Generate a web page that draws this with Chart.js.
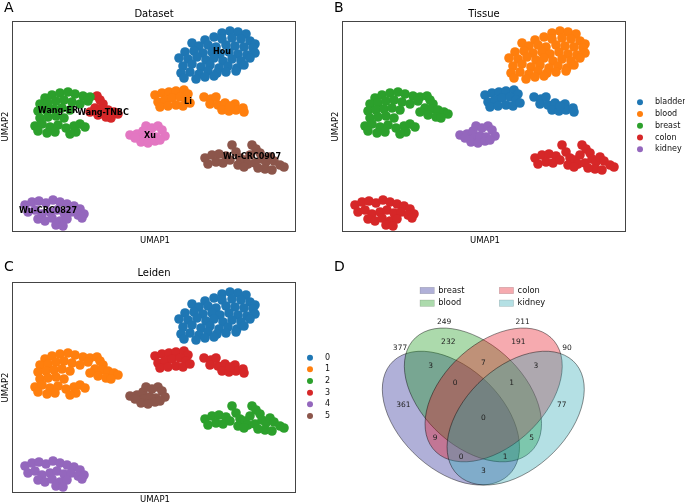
<!DOCTYPE html>
<html>
<head>
<meta charset="utf-8">
<script src="https://cdn.jsdelivr.net/npm/chart.js@4.4.1/dist/chart.umd.min.js"></script>
<style>
  body { margin: 0; background: #fff; width: 685px; height: 503px; position: relative; overflow: hidden; }
  canvas { position: absolute; }
</style>
</head>
<body>
<canvas id="cA" width="340" height="250" style="left:0;top:0;width:340px;height:250px"></canvas>
<canvas id="cB" width="355" height="250" style="left:330px;top:0;width:355px;height:250px"></canvas>
<canvas id="cC" width="340" height="253" style="left:0;top:250px;width:340px;height:253px"></canvas>
<canvas id="cD" width="355" height="253" style="left:330px;top:250px;width:355px;height:253px"></canvas>
<script>
// ===== UMAP coordinates per sample (UMAP1, UMAP2) =====
const houPts = [[21.0,19.9],[21.8,20.1],[22.6,20.0],[23.4,19.8],[19.3,19.2],[20.2,19.5],[21.0,19.3],[22.0,19.4],[22.9,19.3],[23.8,19.1],[24.3,18.8],
  [18.0,18.9],[18.7,18.6],[19.6,18.7],[20.4,18.5],[21.4,18.7],[22.3,18.6],[23.2,18.5],[24.1,18.4],[17.3,18.0],[18.2,18.1],[19.1,17.9],[20.0,18.0],
  [20.8,17.8],[21.7,18.0],[22.6,17.8],[23.5,17.7],[24.3,17.9],[16.7,17.4],[17.6,17.3],[18.5,17.5],[19.4,17.2],[20.2,17.4],[21.1,17.1],[22.0,17.3],
  [22.9,17.1],[23.8,17.4],[17.1,16.6],[18.0,16.8],[18.9,16.5],[19.8,16.7],[20.7,16.4],[21.6,16.6],[22.5,16.4],[23.2,16.7],[16.9,15.9],[17.8,16.0],
  [18.7,15.8],[19.6,16.1],[20.5,15.9],[21.4,16.0],[22.4,16.1],[17.2,15.4],[18.4,15.3],[19.3,15.5],[20.2,15.6]];
const liPts = [[14.3,13.7],[15.0,13.9],[15.7,14.0],[16.4,14.1],[17.2,14.2],[17.6,13.8],[14.6,13.0],[15.3,13.2],[16.0,13.4],[16.8,13.5],[17.4,13.2],
  [14.8,12.5],[15.6,12.6],[16.4,12.7],[17.1,12.6],[17.8,12.9],[19.2,13.5],[19.9,13.3],[20.4,13.5],[19.8,12.8],[20.6,12.7],[21.3,12.9],[21.0,12.2],
  [21.7,12.1],[22.3,12.8],[22.4,12.2],[23.1,12.4],[23.2,12.0],[21.8,12.6]];
const wangErPts = [[3.3,13.4],[4.0,13.7],[4.8,13.9],[5.6,14.0],[6.3,13.8],[7.1,13.6],[7.8,13.5],[2.8,12.8],[3.6,12.9],[4.4,13.1],[5.2,13.2],
  [6.0,13.0],[6.8,12.8],[7.6,13.1],[2.6,12.1],[3.4,12.2],[4.2,12.3],[5.0,12.4],[5.8,12.2],[2.8,11.4],[3.6,11.5],[4.4,11.6],[5.2,11.4],[2.3,10.6],
  [3.0,10.8],[3.8,10.5],[4.6,10.7],[5.4,10.4],[4.3,10.0],[2.6,10.1],[3.5,9.9],[6.2,10.6],[6.8,10.8],[7.3,10.5],[6.4,10.0],[5.8,9.8]];
const wangTnbcPts = [[8.5,13.6],[8.8,13.2],[9.1,12.8],[8.3,12.4],[9.0,12.3],[9.6,12.2],[10.2,12.0],[10.6,11.8],[7.8,12.0],[8.6,11.7],[9.4,11.5],[9.9,11.4]];
const crc0827Pts = [[1.3,2.7],[2.0,3.0],[2.7,3.1],[3.4,2.9],[4.1,3.2],[4.8,3.0],[5.5,2.8],[6.2,2.6],[6.8,2.3],[7.2,1.8],[1.6,2.0],[2.3,2.2],
  [3.0,1.8],[3.8,2.0],[4.5,2.2],[5.2,1.9],[5.9,2.0],[6.6,1.7],[2.6,1.3],[3.3,1.1],[4.0,1.4],[4.8,1.1],[5.5,1.3],[4.4,0.7],[5.1,0.6],[7.0,1.4]];
const crc0907Pts = [[19.3,7.4],[20.0,7.7],[20.7,7.8],[21.4,7.6],[19.6,6.8],[20.4,7.0],[21.1,6.9],[21.8,7.2],[22.0,8.7],[22.4,8.0],[22.8,7.4],
  [22.6,6.7],[23.3,7.2],[24.0,8.7],[24.4,8.3],[24.8,7.9],[23.8,7.7],[23.6,6.8],[24.3,6.9],[25.0,7.3],[25.4,7.0],[25.8,7.5],[26.2,7.1],[26.8,6.7],
  [27.2,6.5],[25.3,6.3],[26.0,6.2],[24.6,6.4],[23.2,6.5]];
const xuPts = [[11.8,9.7],[12.5,9.8],[13.1,10.1],[13.4,10.6],[14.0,10.4],[14.6,10.6],[15.0,10.2],[15.3,9.6],[13.2,9.4],[13.8,9.6],[14.4,9.5],
  [12.9,9.0],[13.6,8.9],[14.3,9.1],[14.8,9.2],[12.3,9.4]];

// ===== annotations =====
const datasetNames = ["Hou", "Li", "Wang-ER", "Wang-TNBC", "Wu-CRC0827", "Wu-CRC0907", "Xu"];
const datasetPts = [houPts, liPts, wangErPts, wangTnbcPts, crc0827Pts, crc0907Pts, xuPts];
const tissueNames = ["bladder", "blood", "breast", "colon", "kidney"];
const tissueOf = ["blood", "bladder", "breast", "breast", "colon", "colon", "kidney"];
const leidenNames = ["0", "1", "2", "3", "4", "5"];
const leidenOf = ["0", "3", "1", "1", "4", "2", "5"];
// where the dataset names sit on panel A (UMAP units)
const datasetLabelPos = [[21.0,18.0],[17.6,13.0],[4.6,12.1],[9.1,11.9],[3.6,2.1],[24.0,7.5],[13.8,9.6]];

// ===== Venn (marker genes per tissue) =====
const vennSets = ["breast", "blood", "colon", "kidney"];
const vennTotals = [377, 249, 211, 90];
const vennRegions = ["1000","0100","0010","0001","1100","0110","0011","1110","0111","1111","1010","0101","1011","1101","1001"];
const vennCounts = [361, 232, 191, 77, 3, 7, 3, 0, 1, 0, 9, 5, 0, 1, 3];

const tab10 = ["#1f77b4", "#ff7f0e", "#2ca02c", "#d62728", "#9467bd", "#8c564b", "#e377c2"];
const FONT = "DejaVu Sans";

function groupsBy(names, of) {
  return names.map((n, k) => {
    const pts = [];
    of.forEach((c, i) => { if (c === n) datasetPts[i].forEach(p => pts.push({ x: p[0], y: p[1] })); });
    return { label: n, data: pts, backgroundColor: tab10[k], pointRadius: 4.8, pointHoverRadius: 4.8, borderWidth: 0, clip: false };
  });
}

const decor = {
  id: "decor",
  afterDatasetsDraw(chart, args, o) {
    const { ctx, chartArea: a, scales: { x, y } } = chart;
    ctx.save();
    ctx.fillStyle = "#000";
    if (o.frame) {
      ctx.strokeStyle = "#444";
      ctx.lineWidth = 1;
      ctx.strokeRect(a.left + 0.5, a.top + 0.5, a.width - 1, a.height - 1);
      const cx = (a.left + a.right) / 2;
      ctx.font = "10px " + FONT;
      ctx.textAlign = "center";
      ctx.textBaseline = "alphabetic";
      ctx.fillText(o.title, cx, o.titleY);
      ctx.font = "8.5px " + FONT;
      ctx.fillText("UMAP1", cx + 1, o.xlabY);
      ctx.save();
      ctx.translate(o.ylabX, (a.top + a.bottom) / 2);
      ctx.rotate(-Math.PI / 2);
      ctx.fillText("UMAP2", 0, 0);
      ctx.restore();
    }
    ctx.font = "14px " + FONT;
    ctx.textAlign = "left";
    ctx.textBaseline = "alphabetic";
    ctx.fillText(o.letter, 4, o.letterY);
    if (o.onData) {
      ctx.font = "bold 8px " + FONT;
      ctx.textAlign = "center";
      ctx.textBaseline = "middle";
      datasetNames.forEach((n, i) => {
        ctx.fillText(n, x.getPixelForValue(datasetLabelPos[i][0]), y.getPixelForValue(datasetLabelPos[i][1]));
      });
    }
    if (o.legendY) {
      ctx.font = "8px " + FONT;
      ctx.textAlign = "left";
      ctx.textBaseline = "middle";
      chart.data.datasets.forEach((ds, i) => {
        const yy = o.legendY + i * o.legendStep;
        ctx.fillStyle = ds.backgroundColor;
        ctx.beginPath();
        ctx.arc(o.legendX, yy, 3, 0, 2 * Math.PI);
        ctx.fill();
        ctx.fillStyle = "#111";
        ctx.fillText(ds.label, o.legendX + 15, yy);
      });
    }
    ctx.restore();
  }
};

function umapChart(id, datasets, pad, deco) {
  return new Chart(document.getElementById(id), {
    type: "scatter",
    data: { datasets },
    options: {
      responsive: false,
      animation: false,
      layout: { padding: pad },
      scales: {
        x: { type: "linear", min: 0, max: 28.4, display: false },
        y: { type: "linear", min: 0, max: 21.1, display: false }
      },
      plugins: { legend: { display: false }, tooltip: { enabled: false }, decor: deco }
    },
    plugins: [decor]
  });
}

umapChart("cA", groupsBy(datasetNames, datasetNames), { left: 12, top: 21, right: 44, bottom: 18 },
  { frame: true, title: "Dataset", titleY: 16.7, xlabY: 242.5, ylabX: 7.5, letter: "A", letterY: 12, onData: true });
umapChart("cB", groupsBy(tissueNames, tissueOf), { left: 12, top: 21, right: 59, bottom: 18 },
  { frame: true, title: "Tissue", titleY: 16.7, xlabY: 242.5, ylabX: 7.5, letter: "B", letterY: 12,
    legendX: 310, legendY: 102.3, legendStep: 11.75 });
umapChart("cC", groupsBy(leidenNames, leidenOf), { left: 12, top: 32, right: 44, bottom: 10 },
  { frame: true, title: "Leiden", titleY: 26, xlabY: 251.5, ylabX: 7.5, letter: "C", letterY: 20.5,
    legendX: 310, legendY: 107.7, legendStep: 11.65 });

// ===== panel D =====
const vennFill = ["rgba(29,29,144,0.35)", "rgba(18,149,18,0.35)", "rgba(229,12,26,0.35)", "rgba(41,166,178,0.35)"];
// ellipse geometry: centre x, centre y, width, height, angle (deg)
const vennShapes = [[0.350,0.400,0.72,0.45,140], [0.450,0.500,0.72,0.45,140], [0.544,0.500,0.72,0.45,40], [0.644,0.400,0.72,0.45,40]];
const regionPos = [[0.134,0.457],[0.338,0.730],[0.656,0.730],[0.853,0.457],[0.258,0.626],[0.497,0.636],[0.736,0.626],[0.369,0.550],
  [0.626,0.550],[0.497,0.399],[0.278,0.316],[0.717,0.316],[0.396,0.231],[0.596,0.231],[0.497,0.173]];
const totalPos = [[0.119,0.701],[0.319,0.815],[0.676,0.815],[0.877,0.701]];

const venn = {
  id: "venn",
  beforeDatasetsDraw(chart) {
    const { ctx, scales: { x, y } } = chart;
    const sx = x.getPixelForValue(1) - x.getPixelForValue(0);
    const sy = y.getPixelForValue(0) - y.getPixelForValue(1);
    ctx.save();
    vennShapes.forEach((e, i) => {
      ctx.save();
      ctx.translate(x.getPixelForValue(e[0]), y.getPixelForValue(e[1]));
      ctx.scale(sx, -sy);
      ctx.rotate(e[4] * Math.PI / 180);
      ctx.beginPath();
      ctx.ellipse(0, 0, e[2] / 2, e[3] / 2, 0, 0, 2 * Math.PI);
      ctx.restore();
      ctx.fillStyle = vennFill[i];
      ctx.fill();
      ctx.strokeStyle = "rgba(0,0,0,0.55)";
      ctx.lineWidth = 0.8;
      ctx.stroke();
    });
    ctx.restore();
  },
  afterDatasetsDraw(chart) {
    const { ctx } = chart;
    ctx.save();
    ctx.font = "7.5px " + FONT;
    ctx.fillStyle = "#222";
    ctx.textAlign = "center";
    ctx.textBaseline = "middle";
    chart.data.datasets.forEach((ds, d) => {
      chart.getDatasetMeta(d).data.forEach((pt, i) => ctx.fillText(String(ds.data[i].v), pt.x, pt.y));
    });
    // legend
    ctx.font = "8.3px " + FONT;
    ctx.textAlign = "left";
    vennSets.forEach((n, i) => {
      const lx = 90 + (i >= 2 ? 79.3 : 0), ly = 37.3 + (i % 2) * 12.7;
      ctx.fillStyle = vennFill[i];
      ctx.fillRect(lx, ly, 14.3, 6.4);
      ctx.strokeStyle = "rgba(0,0,0,0.2)";
      ctx.lineWidth = 0.6;
      ctx.strokeRect(lx, ly, 14.3, 6.4);
      ctx.fillStyle = "#111";
      ctx.fillText(n, lx + 18.3, ly + 3.2);
    });
    ctx.fillStyle = "#000";
    ctx.font = "14px " + FONT;
    ctx.textBaseline = "alphabetic";
    ctx.fillText("D", 4, 20.5);
    ctx.restore();
  }
};

new Chart(document.getElementById("cD"), {
  type: "scatter",
  data: {
    datasets: [
      { label: "regions", data: vennCounts.map((v, i) => ({ x: regionPos[i][0], y: regionPos[i][1], v })), pointRadius: 0 },
      { label: "totals", data: vennTotals.map((v, i) => ({ x: totalPos[i][0], y: totalPos[i][1], v })), pointRadius: 0 }
    ]
  },
  options: {
    responsive: false,
    animation: false,
    layout: { padding: { left: 43.8, right: 90.9, top: 29, bottom: 0 } },
    scales: {
      x: { type: "linear", min: 0, max: 1, display: false },
      y: { type: "linear", min: 0.034, max: 1, display: false }
    },
    plugins: { legend: { display: false }, tooltip: { enabled: false } }
  },
  plugins: [venn]
});
</script>
</body>
</html>
